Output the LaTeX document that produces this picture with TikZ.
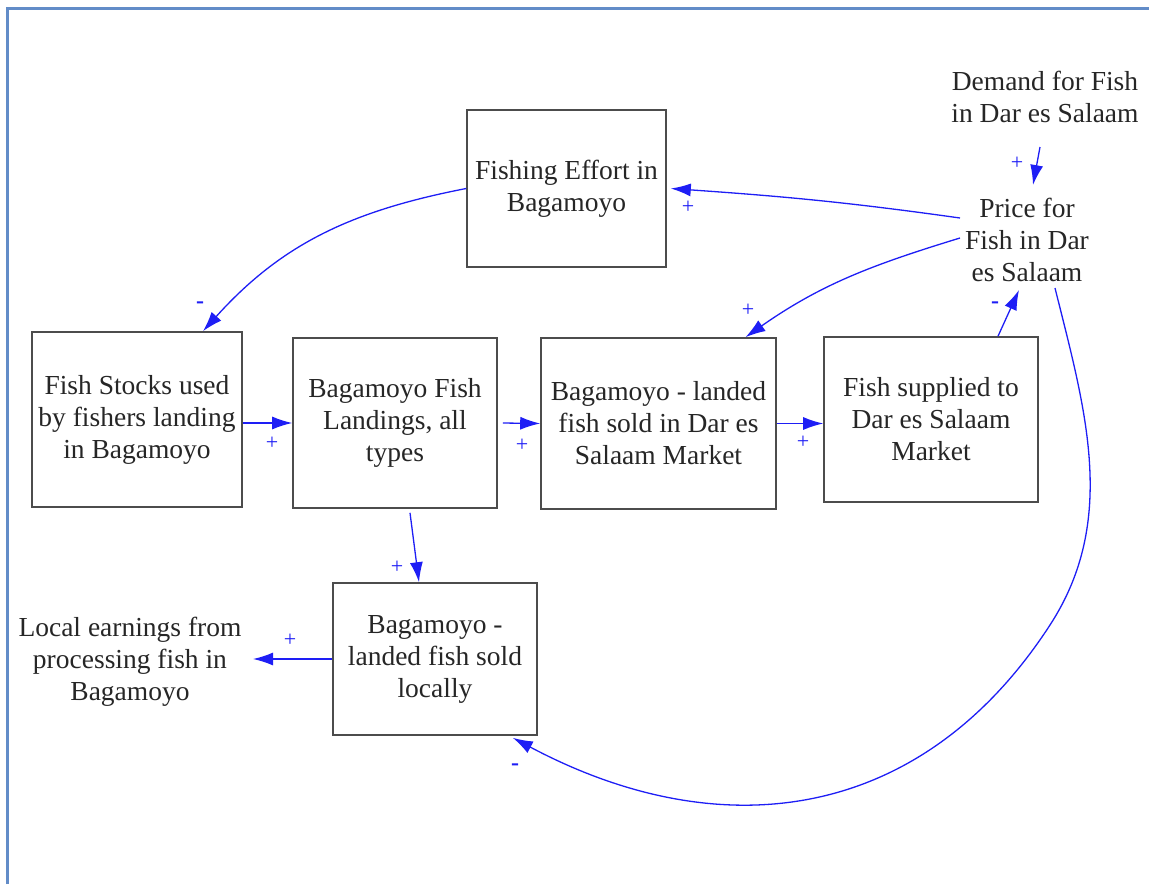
\documentclass[tikz,border=0pt]{standalone}
\usepackage{fontspec}
\setmainfont{Liberation Serif}
\usepackage{xcolor}
\usetikzlibrary{positioning,calc,arrows.meta}

\definecolor{linkblue}{RGB}{30,30,245}
\definecolor{framecol}{RGB}{98,140,200}

\begin{document}
\begin{tikzpicture}[x=1pt,y=1pt,
    every node/.style={font=\fontsize{27.5}{32}\selectfont, text=black!85, align=center},
    box/.style={draw=black!70, line width=1.6pt, inner sep=0pt},
    link/.style={draw=linkblue, line width=1.3pt, -{Latex[length=20pt,width=13pt]}},
    sign/.style={text=linkblue, font=\fontsize{22}{22}\selectfont, inner sep=0pt},
    minus/.style={text=linkblue, font=\fontsize{24}{24}\selectfont\bfseries, inner sep=0pt}]
    \useasboundingbox (0,0) rectangle (1149,-884);
    \draw[framecol, line width=3pt] (7,-884) -- (7,-8) -- (1149,-8);

    % the boxes
    \node[box, minimum width=199pt, minimum height=157pt] (effort) at (566.5,-188.5) {Fishing Effort in\\Bagamoyo};
    \node[box, minimum width=210pt, minimum height=175pt] (stocks) at (137,-419.5) {Fish Stocks used\\by fishers landing\\in Bagamoyo};
    \node[box, minimum width=204pt, minimum height=170pt] (landings) at (395,-423) {Bagamoyo Fish\\Landings, all\\types};
    \node[box, minimum width=235pt, minimum height=171pt] (darsold) at (658.5,-423.5) {Bagamoyo - landed\\fish sold in Dar es\\Salaam Market};
    \node[box, minimum width=214pt, minimum height=165pt] (supplied) at (931,-419.5) {Fish supplied to\\Dar es Salaam\\Market};
    \node[box, minimum width=204pt, minimum height=152pt] (localsold) at (435,-659) {Bagamoyo -\\landed fish sold\\locally};

    % free variables
    \node (earnings) at (130,-662) {Local earnings from\\processing fish in\\Bagamoyo};
    \node (demand) at (1045,-97) {Demand for Fish\\in Dar es Salaam};
    \node (price) at (1027,-240) {Price for\\Fish in Dar\\es Salaam};
    \coordinate (arcmid) at (1050,-625);

    % links
    \draw[link] ($(demand)+(-5,-50)$) -- ($(price)+(6,55)$);
    \draw[link] ($(price)+(-67,22)$) to[out=172,in=-4] ([xshift=4pt]effort.east);
    \draw[link] (effort.west) to[out=191,in=48] ($(stocks.north)+(66,0)$);
    \draw[link] ($(price)+(-67,2)$) to[out=197,in=35] ($(darsold.north)+(87,0)$);
    \draw[link] ($(supplied.north)+(67,0)$) -- ($(price)+(-8,-50)$);
    \draw[link] ($(price)+(28,-48)$) to[out=-76,in=57,looseness=0.95] (arcmid) to[out=237,in=-28,looseness=1.1] ($(localsold.south east)+(-25,-2)$);
    \draw[link] ([yshift=-3.5pt]stocks.east) -- (landings.west);
    \draw[link] ([xshift=5pt]landings.east) -- (darsold.west);
    \draw[link] (darsold.east) -- (darsold.east -| supplied.west);
    \draw[link] ($(landings.south)+(15,-4)$) -- ($(localsold.north)+(-16,0)$);
    \draw[link] (localsold.west) -- ([xshift=8pt]earnings.east |- localsold.west);

    % polarity signs
    \node[sign] (p1) at (1017,-163) {+};
    \node[sign] (p2) at (688,-207) {+};
    \node[minus] (m1) at (200,-305) {-};
    \node[sign] (p3) at (748,-310) {+};
    \node[minus] (m2) at (995,-305) {-};
    \node[minus] (m3) at (515,-767) {-};
    \node[sign] (p4) at (272,-443) {+};
    \node[sign] (p5) at (522,-445) {+};
    \node[sign] (p6) at (803,-442) {+};
    \node[sign] (p7) at (397,-567) {+};
    \node[sign] (p8) at (290,-640) {+};
\end{tikzpicture}
\end{document}
